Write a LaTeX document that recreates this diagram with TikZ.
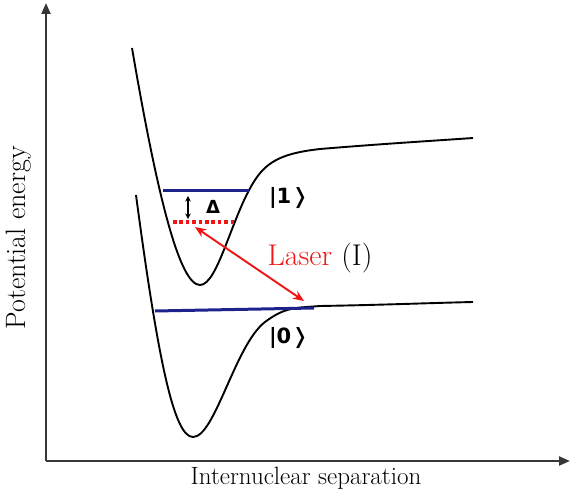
\documentclass[tikz,border=0pt]{standalone}
\usepackage{fontspec}
\newfontfamily\ketfont{DejaVu Sans}
\usetikzlibrary{arrows.meta}
\definecolor{levelblue}{RGB}{28,36,140}
\definecolor{laserred}{RGB}{240,20,20}
\definecolor{axisgray}{RGB}{55,55,55}
\tikzset{
  axisline/.style={line width=2.2pt, draw=axisgray, -{Triangle[length=11pt,width=9pt]}},
  curve/.style={line width=1.9pt, black},
  level/.style={line width=3pt, levelblue},
  dottedlevel/.style={line width=3.4pt, laserred, dash pattern=on 3.6pt off 2.8pt},
  laserarrow/.style={line width=1.9pt, laserred, {Stealth[length=11pt,width=9pt]}-{Stealth[length=11pt,width=9pt]}},
  gaparrow/.style={line width=1.1pt, black, {Stealth[length=5.5pt,width=5.5pt]}-{Stealth[length=5.5pt,width=5.5pt]}},
  ket/.style={inner sep=0pt, font=\ketfont\bfseries\fontsize{21}{23}\selectfont},
  axislabel/.style={inner sep=0pt}
}
\begin{document}
\begin{tikzpicture}[x=1pt,y=-1pt]
\useasboundingbox (0,0) rectangle (570,494);
% axes
\coordinate (O) at (46,461);
\coordinate (ytop) at (46,3);
\coordinate (xend) at (570,461);
\draw[axisline] (O) -- (ytop);
\draw[axisline] (O) -- (xend);
% upper potential curve
\draw[curve] (132,48) .. controls (158,200) and (180,285) .. (200,285)
  .. controls (218,285) and (232,215) .. (255,180)
  .. controls (268,160) and (285,153) .. (320,149)
  .. controls (380,144) and (430,141) .. (473,138);
% lower potential curve
\draw[curve] (136,195) .. controls (158,360) and (174,437) .. (193,437)
  .. controls (215,437) and (235,345) .. (265,322)
  .. controls (285,307) and (295,308) .. (320,306)
  .. controls (380,305) and (430,303) .. (473,302);
% levels
\coordinate (u1) at (163,191);
\coordinate (u2) at (249,191);
\draw[level] (u1) -- (u2);
\coordinate (l1) at (155,311);
\coordinate (l2) at (314,308);
\draw[level] (l1) -- (l2);
\coordinate (r1) at (173,222);
\coordinate (r2) at (234,222);
\draw[dottedlevel] (r1) -- (r2);
% detuning arrow
\coordinate (d1) at (188,196);
\coordinate (d2) at (188,219);
\draw[gaparrow] (d1) -- (d2);
\node[ket, font=\ketfont\bfseries\fontsize{18}{20}\selectfont] (delta) at (213,207) {Δ};
% laser arrow
\coordinate (la) at (195,227);
\coordinate (lb) at (304,301);
\draw[laserarrow] (la) -- (lb);
\node[inner sep=0pt, font=\fontsize{30}{32}\selectfont] (laser) at (320,258) {\textcolor{laserred}{Laser} (I)};
% kets
\node[ket] (ket1) at (289,198) {|1❭};
\node[ket] (ket0) at (289,338) {|0❭};
% axis labels
\node[axislabel, rotate=90, font=\fontsize{28}{30}\selectfont] (ylab) at (19,238) {Potential energy};
\node[axislabel, font=\fontsize{25}{27}\selectfont] (xlab) at (306,478) {Internuclear separation};
\end{tikzpicture}
\end{document}
